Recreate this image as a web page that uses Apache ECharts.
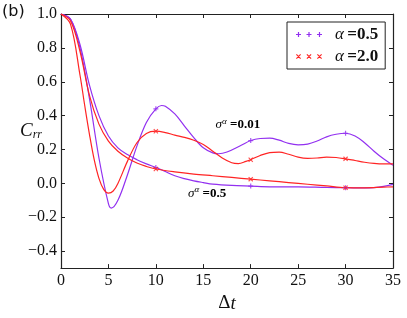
<!DOCTYPE html>
<html>
<head>
<meta charset="utf-8">
<script src="https://cdn.jsdelivr.net/npm/echarts@6/dist/echarts.min.js"></script>
<style>html,body{margin:0;padding:0;background:#fff;}#c{width:407px;height:318px;}</style>
</head>
<body>
<div id="c"></div>
<script>
// ---- data ----
const tA_s001 = [0,1,2,3,4,5,5.3,6,7,8,9,10,10.6,11,12,13,14,15,16,16.6,17.5,19,20,21,22,23,24,25,26,27,28,29,30,31,32,33,34,35];
const vA_s001 = [1.0,0.97,0.8,0.5,0.15,-0.12,-0.146,-0.1,0.05,0.22,0.36,0.44,0.46,0.455,0.41,0.34,0.27,0.21,0.18,0.175,0.185,0.225,0.253,0.265,0.267,0.255,0.236,0.228,0.232,0.25,0.275,0.29,0.296,0.28,0.24,0.19,0.145,0.107];

const tB_s001 = [0,1,2,2.5,3,3.5,4,4.5,5,5.5,6,7,8,9,10,11,12,13,14,15,16,17,18,18.7,19.5,20,21,22,23,24,25,26,27,28,29,30,31,32,33,34,35];
const vB_s001 = [1.0,0.94,0.64,0.46,0.29,0.14,0.03,-0.035,-0.057,-0.045,0.0,0.13,0.24,0.295,0.308,0.3,0.285,0.272,0.255,0.23,0.19,0.15,0.122,0.117,0.13,0.14,0.165,0.182,0.185,0.172,0.155,0.148,0.15,0.155,0.153,0.145,0.135,0.125,0.118,0.115,0.115];

const tA_s05 = [0,1,2,3,4,5,6,7,8,9,10,11,12,13,14,15,16,18,20,22,25,28,30,32,33,34,35];
const vA_s05 = [1.0,0.97,0.82,0.58,0.4,0.28,0.21,0.17,0.14,0.115,0.094,0.07,0.045,0.028,0.015,0.005,-0.004,-0.012,-0.016,-0.02,-0.02,-0.024,-0.025,-0.027,-0.025,-0.018,-0.006];

const tB_s05 = [0,1,2,3,4,5,6,7,8,9,10,12,14,16,18,20,22,24,26,28,30,32,34,35];
const vB_s05 = [1.0,0.96,0.78,0.52,0.35,0.25,0.19,0.15,0.12,0.1,0.085,0.068,0.055,0.045,0.035,0.025,0.015,0.005,-0.005,-0.015,-0.025,-0.026,-0.022,-0.02];

const markerTimes = [10,20,30];
const yTicks = [-0.4,-0.2,0.0,0.2,0.4,0.6,0.8,1.0];
const legendA = 'α =0.5';
const legendB = 'α =2.0';

// ---- styling ----
const PURPLE = '#9230f0';
const RED = '#ff2424';
const SERIF = "'Liberation Serif', 'DejaVu Serif', serif";

function pairs(t, v){ return t.map((x,i)=>[x, v[i]]); }
function marks(t, v){ return markerTimes.map(m => [m, v[t.indexOf(m)]]); }

function plusPath(n, gap){
  let p = '';
  for (let i=0;i<n;i++){
    const cx = 2.5 + i*gap;
    p += `M${cx-2.5},1.9h5v1.2h-5z M${cx-0.6},0h1.2v5h-1.2z `;
  }
  return 'path://' + p.trim();
}
function crossPath(n, gap){
  let p = '';
  for (let i=0;i<n;i++){
    const cx = 2.5 + i*gap;
    p += `M${cx-2.5},0.8L${cx-1.7},0L${cx+2.5},4.2L${cx+1.7},5Z `;
    p += `M${cx+1.7},0L${cx+2.5},0.8L${cx-1.7},5L${cx-2.5},4.2Z `;
  }
  return 'path://' + p.trim();
}

const chart = echarts.init(document.getElementById('c'), null, {renderer:'canvas'});

function lineSeries(name, t, v, color){
  return { type:'line', name, data: pairs(t,v), smooth:0.35, showSymbol:false,
    lineStyle:{color, width:1.2}, itemStyle:{color}, xAxisIndex:0, yAxisIndex:0, z:2, silent:true };
}
function markSeries(name, t, v, color, path){
  return { type:'scatter', name, data: marks(t,v), symbol:path, symbolSize:[5,5],
    itemStyle:{color}, xAxisIndex:0, yAxisIndex:0, z:3, silent:true };
}

const axisLineStyle = {show:true, onZero:false, lineStyle:{color:'#222', width:1.2}};
const tickStyle = {show:true, inside:true, length:4, lineStyle:{color:'#222', width:1}};

chart.setOption({
  animation:false,
  backgroundColor:'#fff',
  grid:{left:61, right:14, top:14, bottom:47.5, containLabel:false},
  xAxis:[
    {type:'value', min:0, max:35, interval:5, position:'bottom',
     axisLine:axisLineStyle, axisTick:tickStyle, splitLine:{show:false},
     axisLabel:{fontFamily:SERIF, fontSize:16, color:'#111', margin:5},
     name:'{d|Δ}{t|t}', nameLocation:'middle', nameGap:24,
     nameTextStyle:{rich:{d:{fontFamily:SERIF, fontSize:19, color:'#111'}, t:{fontFamily:SERIF, fontStyle:'italic', fontSize:19, color:'#111'}}}},
    {type:'value', min:0, max:35, interval:5, position:'top',
     axisLine:axisLineStyle, axisTick:tickStyle, axisLabel:{show:false}, splitLine:{show:false}}
  ],
  yAxis:[
    {type:'value', min:-0.5, max:1.0, position:'left',
     axisLine:axisLineStyle, splitLine:{show:false},
     axisTick:Object.assign({customValues:yTicks}, tickStyle),
     axisLabel:{customValues:yTicks, fontFamily:SERIF, fontSize:16, color:'#111', margin:4,
       formatter:v => (v<0?'−':'') + Math.abs(v).toFixed(1)},
     name:'{c|C}{s|rr}', nameLocation:'middle', nameRotate:0, nameGap:19, nameMoveOverlap:false,
     nameTextStyle:{padding:[0,0,20,0], rich:{c:{fontFamily:SERIF, fontStyle:'italic', fontSize:19, color:'#111'}, s:{fontFamily:SERIF, fontStyle:'italic', fontSize:12, color:'#111', padding:[8,0,0,0]}}}},
    {type:'value', min:-0.5, max:1.0, position:'right',
     axisLine:axisLineStyle, splitLine:{show:false},
     axisTick:Object.assign({customValues:yTicks}, tickStyle),
     axisLabel:{show:false}}
  ],
  legend:{
    left:287, top:22, orient:'vertical', itemGap:5,
    backgroundColor:'#fff', borderColor:'#222', borderWidth:1, borderRadius:0,
    padding:[4,7,4,9], itemWidth:26, itemHeight:5,
    data:[{name:legendA, icon:plusPath(3,10.5), itemStyle:{color:PURPLE}},
          {name:legendB, icon:crossPath(3,10.5), itemStyle:{color:RED}}],
    formatter: n => '{a|α} {b|' + n.split(' ')[1] + '}',
    textStyle:{padding:[0,0,0,8], rich:{
      a:{fontFamily:SERIF, fontStyle:'italic', fontSize:17, color:'#111'},
      b:{fontFamily:SERIF, fontWeight:'bold', fontSize:17, color:'#111'}}}
  },
  series:[
    lineSeries(legendA, tA_s001, vA_s001, PURPLE),
    lineSeries(legendA, tA_s05, vA_s05, PURPLE),
    lineSeries(legendB, tB_s001, vB_s001, RED),
    lineSeries(legendB, tB_s05, vB_s05, RED),
    markSeries(legendA, tA_s001, vA_s001, PURPLE, plusPath(1,0)),
    markSeries(legendA, tA_s05, vA_s05, PURPLE, plusPath(1,0)),
    markSeries(legendB, tB_s001, vB_s001, RED, crossPath(1,0)),
    markSeries(legendB, tB_s05, vB_s05, RED, crossPath(1,0))
  ]
});

// annotations anchored in data coordinates
const ann = [
  {txt:'0.01', at:[16.3, 0.345]},
  {txt:'0.5', at:[13.4, -0.06]}
];
const sigRich = {
  s:{fontFamily:SERIF, fontStyle:'italic', fontSize:13, color:'#111'},
  u:{fontFamily:SERIF, fontStyle:'italic', fontSize:9, color:'#111', padding:[0,0,7,0]},
  n:{fontFamily:SERIF, fontWeight:'bold', fontSize:13, color:'#111'}
};
const g = ann.map(a => {
  const p = chart.convertToPixel({xAxisIndex:0, yAxisIndex:0}, a.at);
  return {type:'text', x:p[0], y:p[1], z:10,
    style:{text:'{s|σ}{u|α}{n| =' + a.txt + '}', rich:sigRich, verticalAlign:'middle', align:'left'}};
});
g.push({type:'text', left:2, top:4, style:{text:'(b)', fontFamily:"'DejaVu Sans', sans-serif", fontSize:16, fill:'#111'}});
chart.setOption({graphic:g});
</script>
</body>
</html>
